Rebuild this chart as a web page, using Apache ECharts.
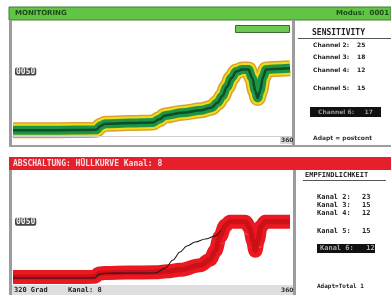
<!DOCTYPE html>
<html>
<head>
<meta charset="utf-8">
<script src="https://cdn.jsdelivr.net/npm/echarts@6/dist/echarts.min.js"></script>
<style>
html,body{margin:0;padding:0;background:#fff;}
#chart{width:391px;height:295px;}
</style>
</head>
<body>
<div id="chart"></div>
<script>
// Winkel in Grad (0..360) und Kurvenwerte, aus dem Bild geschaetzt
var topDeg = [0, 40, 80, 108, 114, 120, 150, 182, 190, 198, 220, 245, 258, 266, 272, 278, 284, 290, 298, 306, 311, 315, 318, 321, 325, 329, 340, 360];
var topVal = [4.5, 4.5, 4.6, 4.8, 8, 9.5, 10, 10.5, 13, 16, 18, 20, 22, 26, 31, 38, 45, 50, 51.5, 51.5, 45, 35, 29.5, 35, 46, 51.5, 52, 52.5];

var botDeg = [0, 40, 80, 106, 112, 120, 150, 185, 200, 217, 243, 256, 263, 269, 276, 282, 292, 302, 308, 312, 315, 318, 322, 328, 340, 360];
var botVal = [6.3, 6.3, 6.3, 6.5, 9, 9.5, 9.8, 10, 10.8, 12, 15.5, 20, 27, 38, 47, 50, 50, 50, 45, 35, 27, 35, 46, 50, 50, 50];

// schwarze Ist-Kurve im unteren Fenster
var blkDeg = [0, 40, 80, 106, 112, 120, 150, 185, 198, 208, 217, 226, 237, 250, 262, 270];
var blkVal = [5.5, 5.5, 5.5, 5.6, 8.6, 9.3, 9.5, 9.5, 13.4, 19.7, 26, 30.8, 34, 36.3, 38.5, 43];

var sensLabels = ['Channel 2:', 'Channel 3:', 'Channel 4:', 'Channel 5:'];
var sensValues = ['25', '18', '12', '15'];
var kanalLabels = ['Kanal 2:', 'Kanal 3:', 'Kanal 4:', 'Kanal 5:'];
var kanalValues = ['23', '15', '12', '15'];

function pairs(xs, ys) {
  return xs.map(function (x, i) { return [x, ys[i]]; });
}

var topData = pairs(topDeg, topVal);
var botData = pairs(botDeg, botVal);
var blkData = pairs(blkDeg, blkVal);

var sans = '"DejaVu Sans", sans-serif';
var mono = '"DejaVu Sans Mono", monospace';

function txt(x, y, s, fill, font) {
  return { type: 'text', x: x, y: y, z: 20,
    style: { text: s, fill: fill, font: font, verticalAlign: 'middle' } };
}
function box(x, y, w, h, fill, stroke) {
  return { type: 'rect', z: 10, shape: { x: x, y: y, width: w, height: h },
    style: { fill: fill, stroke: stroke || null, lineWidth: 1 } };
}

var graphics = [
  // oberes Fenster
  box(9, 7, 382, 13, '#62c444', '#3f7f34'),
  txt(15, 13.5, 'MONITORING', '#1d4a18', 'bold 7px ' + sans),
  txt(336, 13.5, 'Modus:  0001', '#1d4a18', 'bold 7px ' + sans),
  box(9, 20, 3, 127, '#9c9c9c'),
  box(292, 20, 3, 127, '#9c9c9c'),
  box(9, 145, 382, 2, '#9c9c9c'),
  { type: 'line', z: 10, shape: { x1: 12, y1: 136.5, x2: 292, y2: 136.5 }, style: { stroke: '#cfcfcf', lineWidth: 1 } },
  box(235.5, 25.5, 54, 7, '#6cc850', '#3a6a30'),
  box(280, 137, 12, 7, '#d8d8d8'),
  txt(281, 140.5, '360', '#333', 'bold 6px ' + sans),
  txt(312, 33, 'SENSITIVITY', '#222', 'bold 8px ' + mono),
  { type: 'line', z: 10, shape: { x1: 298, y1: 38.5, x2: 391, y2: 38.5 }, style: { stroke: '#555', lineWidth: 1 } },
  box(310, 107, 71, 10, '#111'),
  txt(318, 112, 'Channel 6:     17', '#9a9a9a', 'bold 6px ' + sans),
  txt(313, 138, 'Adapt = postcont', '#333', 'bold 6px ' + sans),

  // unteres Fenster
  box(9, 157, 382, 13, '#e5202a'),
  txt(13, 163.5, 'ABSCHALTUNG: HÜLLKURVE Kanal: 8', '#f4e0e0', 'bold 8px ' + mono),
  box(9, 170, 3, 125, '#9c9c9c'),
  box(293, 170, 3, 125, '#9c9c9c'),
  box(12, 285, 281, 10, '#dedede'),
  txt(14, 290.5, '320 Grad', '#222', 'bold 7px ' + mono),
  txt(68, 290.5, 'Kanal: 8', '#222', 'bold 7px ' + mono),
  txt(281, 290.5, '360', '#333', 'bold 6px ' + sans),
  txt(305, 175.5, 'EMPFINDLICHKEIT', '#222', 'bold 7px ' + mono),
  { type: 'line', z: 10, shape: { x1: 303, y1: 180.5, x2: 386, y2: 180.5 }, style: { stroke: '#555', lineWidth: 1 } },
  box(317, 244, 58, 9, '#111'),
  txt(320, 248.5, 'Kanal 6:   12', '#aaaaaa', 'bold 7px ' + mono),
  txt(317, 286, 'Adapt=Total 1', '#222', 'bold 6px ' + mono)
];

var sensY = [45, 57, 70, 88];
sensLabels.forEach(function (s, i) {
  graphics.push(txt(313, sensY[i], s, '#222', 'bold 6px ' + sans));
  graphics.push(txt(357, sensY[i], sensValues[i], '#222', 'bold 6px ' + sans));
});
var kanalY = [197, 205, 213, 231];
kanalLabels.forEach(function (s, i) {
  graphics.push(txt(317, kanalY[i], s, '#222', 'bold 7px ' + mono));
  graphics.push(txt(362, kanalY[i], kanalValues[i], '#222', 'bold 7px ' + mono));
});

function yAx(idx) {
  return {
    gridIndex: idx, type: 'value', min: 0, max: 90, interval: 50,
    axisLine: { show: false }, axisTick: { show: false }, splitLine: { show: false },
    axisLabel: {
      inside: true, margin: 2, fontSize: 8, fontWeight: 'bold', fontFamily: mono,
      color: '#eee', backgroundColor: '#444', padding: [0, 1], borderRadius: 2,
      formatter: function (v) { return v === 50 ? '0050' : ''; }
    }
  };
}
function xAx(idx) {
  return { gridIndex: idx, type: 'value', min: 0, max: 360, show: false };
}
function band(idx, data, width, color, z) {
  return {
    type: 'line', xAxisIndex: idx, yAxisIndex: idx, data: data, z: z,
    smooth: 0.35, smoothMonotone: 'x', showSymbol: false, symbol: 'none',
    lineStyle: { width: width, color: color, cap: 'butt', join: 'round' },
    silent: true, animation: false
  };
}

var myChart = echarts.init(document.getElementById('chart'));
myChart.setOption({
  backgroundColor: '#ffffff',
  animation: false,
  grid: [
    { left: 13, top: 20, width: 277, height: 116 },
    { left: 13, top: 171, width: 277, height: 114 }
  ],
  xAxis: [xAx(0), xAx(1)],
  yAxis: [yAx(0), yAx(1)],
  graphic: graphics,
  series: [
    band(0, topData, 16, '#d9a232', 2),
    band(0, topData, 13, '#f2dc18', 3),
    band(0, topData, 9, '#1f9447', 4),
    band(0, topData, 2.5, '#0b4f28', 5),
    band(1, botData, 14, '#ea1820', 2),
    band(1, botData, 5, '#cc1018', 3),
    band(1, blkData, 1.1, '#1a1a1a', 4)
  ]
});
</script>
</body>
</html>
